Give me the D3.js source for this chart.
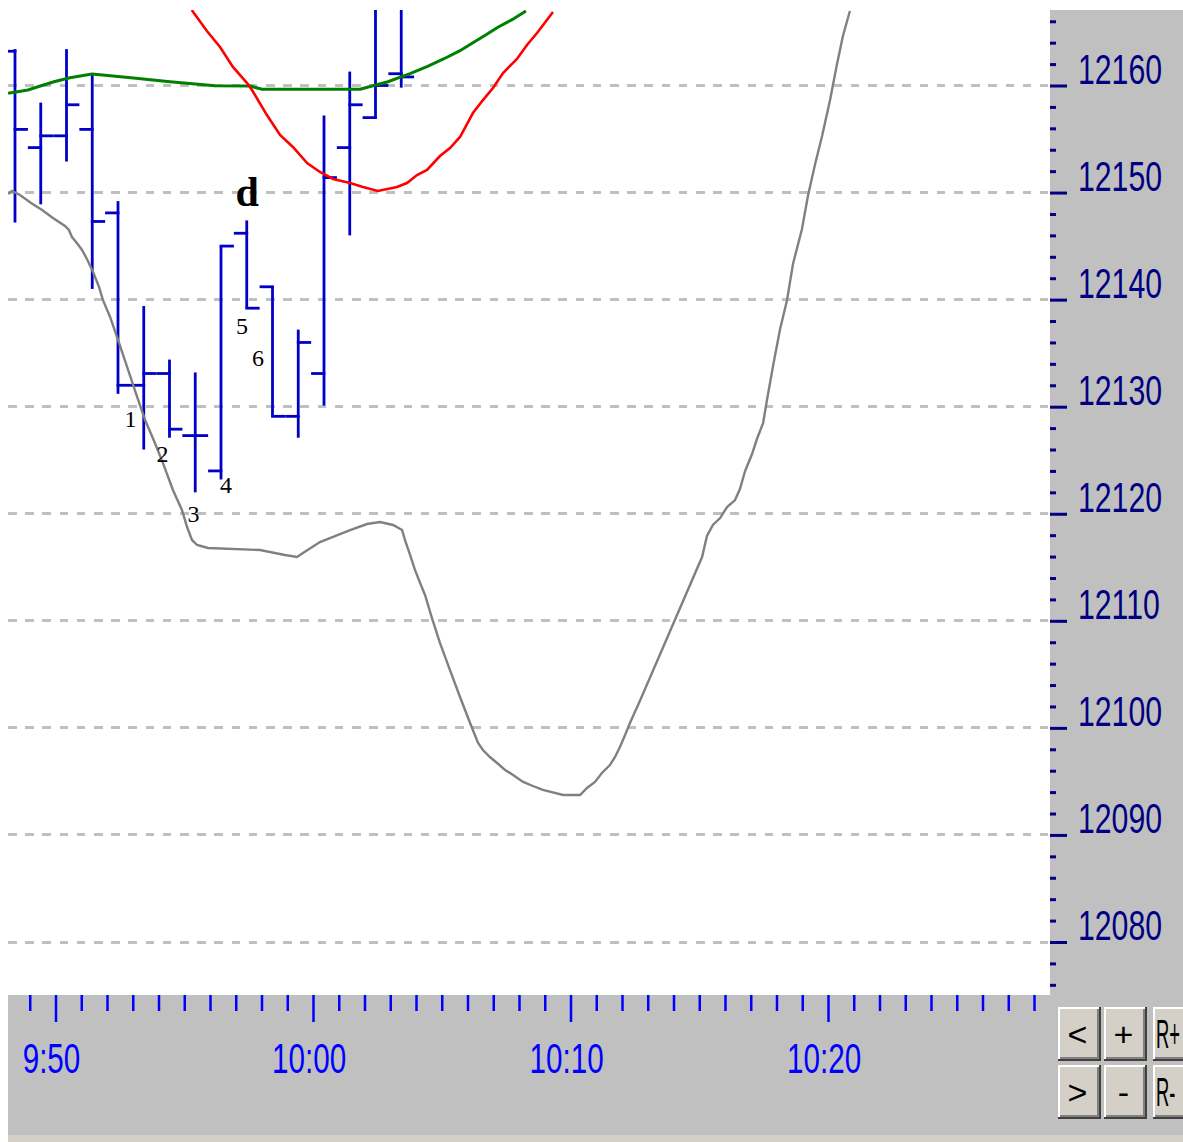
<!DOCTYPE html>
<html lang="en">
<head>
<meta charset="UTF-8">
<title>Bars with averages</title>
<script src="https://d3js.org/d3.v7.min.js"></script>
<style>
  body { margin: 0; background: #fff; }
  svg { display: block; }
  .grid line { stroke: #c0c0c0; stroke-width: 3; stroke-dasharray: 8.5 8.7; }
  .bar line { stroke: #0000c8; stroke-width: 2.8; }
  .axis .domain { display: none; }
</style>
</head>
<body>
<div id="container"></div>
<script>
// DATA (times are minutes since midnight, 590 = 9:50)
const barTimes  = [588, 589, 590, 591, 592, 593, 594, 595, 596, 597, 598, 599, 600, 601, 602, 603];
const barOpen   = [12163.2, 12154.2, 12155.3, 12155.9, 12148.1, 12132.0, 12133.1, 12127.3, 12124.0, 12146.2, 12141.2, 12129.1, 12133.1, 12154.2, 12157.0, 12161.1];
const barHigh   = [12163.4, 12158.4, 12163.4, 12161.1, 12149.2, 12139.4, 12134.4, 12133.2, 12145.0, 12147.4, 12141.2, 12137.2, 12157.2, 12161.3, 12170.0, 12170.0];
const barLow    = [12147.2, 12148.9, 12152.9, 12141.0, 12131.2, 12126.0, 12127.1, 12122.0, 12123.2, 12139.2, 12129.1, 12127.1, 12130.1, 12146.0, 12157.0, 12159.8];
const barClose  = [12155.9, 12155.3, 12158.2, 12147.3, 12132.0, 12133.1, 12127.9, 12127.3, 12145.0, 12139.2, 12129.1, 12136.0, 12151.4, 12158.2, 12160.0, 12160.8];

const grayLine = [
  [588.16, 12149.87], [588.31, 12150.15], [588.62, 12149.77], [589.05, 12149.03], [589.48, 12148.37],
  [589.90, 12147.62], [590.37, 12146.88], [590.52, 12146.50], [590.64, 12145.85], [590.83, 12145.29],
  [591.03, 12144.64], [591.22, 12143.80], [591.46, 12142.58], [591.69, 12141.18], [591.84, 12139.97],
  [592.12, 12138.38], [592.43, 12136.23], [592.78, 12133.71], [593.17, 12130.91], [593.48, 12128.76],
  [593.86, 12126.61], [594.17, 12124.75], [594.56, 12122.22], [594.91, 12120.35], [595.11, 12118.76],
  [595.30, 12117.55], [595.50, 12117.08], [595.92, 12116.80], [597.94, 12116.61], [598.91, 12116.15],
  [599.38, 12115.96], [599.61, 12116.33], [600.27, 12117.36], [600.78, 12117.83], [601.44, 12118.48],
  [602.10, 12119.04], [602.60, 12119.23], [603.11, 12118.95], [603.46, 12118.48], [603.57, 12117.55],
  [603.77, 12116.15], [603.96, 12114.75], [604.16, 12113.53], [604.35, 12112.41], [604.62, 12110.26],
  [604.93, 12107.93], [605.32, 12105.40], [605.71, 12102.88], [606.10, 12100.45], [606.41, 12098.59],
  [606.60, 12097.93], [606.87, 12097.28], [607.15, 12096.72], [607.46, 12096.07], [607.77, 12095.60],
  [608.16, 12094.95], [608.54, 12094.57], [608.93, 12094.20], [609.71, 12093.73], [610.37, 12093.73],
  [610.64, 12094.39], [610.95, 12094.95], [611.22, 12095.79], [611.53, 12096.53], [611.73, 12097.28],
  [611.92, 12098.21], [612.12, 12099.33], [612.31, 12100.45], [612.50, 12101.48], [612.66, 12102.32],
  [615.11, 12115.96], [615.30, 12117.92], [615.53, 12118.95], [615.81, 12119.60], [616.08, 12120.63],
  [616.39, 12121.28], [616.58, 12122.31], [616.78, 12123.99], [617.05, 12125.58], [617.24, 12126.98],
  [617.48, 12128.47], [617.63, 12130.62], [617.88, 12133.99], [618.14, 12137.26], [618.41, 12139.97],
  [618.64, 12143.33], [618.99, 12146.60], [619.22, 12149.68], [619.50, 12152.67], [619.77, 12155.28],
  [620.08, 12158.65], [620.35, 12162.01], [620.58, 12164.63], [620.85, 12166.96]
];

const greenLine = [
  [588.16, 12159.27], [588.93, 12159.58], [589.44, 12159.98], [589.94, 12160.35], [590.56, 12160.73],
  [591.42, 12161.07], [592.93, 12160.73], [594.45, 12160.35], [596.19, 12159.98], [597.55, 12159.95],
  [598.02, 12159.65], [601.83, 12159.65], [602.33, 12159.98], [602.91, 12160.35], [603.34, 12160.73],
  [603.77, 12161.10], [604.47, 12161.82], [605.09, 12162.50], [605.71, 12163.25], [606.21, 12164.00],
  [606.72, 12164.74], [607.18, 12165.44], [607.73, 12166.15], [608.27, 12166.96]
];

const redLine = [
  [595.29, 12167.05], [595.88, 12165.09], [596.39, 12163.60], [596.89, 12161.73], [597.44, 12160.23],
  [597.63, 12159.58], [598.21, 12157.24], [598.72, 12155.38], [599.22, 12154.26], [599.77, 12152.76],
  [600.27, 12151.92], [600.78, 12151.27], [601.44, 12150.89], [601.94, 12150.52], [602.52, 12150.15],
  [603.26, 12150.52], [603.65, 12150.89], [604.04, 12151.64], [604.43, 12152.11], [604.93, 12153.41],
  [605.32, 12154.16], [605.71, 12155.19], [606.21, 12157.43], [606.60, 12158.64], [606.99, 12159.77],
  [607.38, 12161.17], [607.92, 12162.48], [608.31, 12163.78], [608.70, 12164.90], [609.32, 12166.86]
];

const markText   = ["1", "2", "3", "4", "5", "6", "d"];
const markTimes  = [592.91, 594.16, 595.36, 596.62, 597.24, 597.86, 597.44];
const markPrices = [12128.10, 12124.83, 12119.23, 12121.94, 12136.79, 12133.80, 12148.74];

const priceTicks = [12080, 12090, 12100, 12110, 12120, 12130, 12140, 12150, 12160];
const timeTicks = [590, 600, 610, 620];
const timeTickLabels = ["9:50", "10:00", "10:10", "10:20"];
const buttonLabels = [["<", "+", "R+"], [">", "-", "R-"]];

// LAYOUT
const W = 1183, H = 1142;
const plot = { left: 8, right: 1050, top: 10, bottom: 995 };
const stripTop = 1135;

const x = d3.scaleLinear().domain([590, 620]).range([55.5, 828]);
const y = d3.scaleLinear().domain([12080, 12160]).range([942, 85.5]);

const svg = d3.select("#container").append("svg")
  .attr("width", W).attr("height", H);

svg.append("rect").attr("width", W).attr("height", H).attr("fill", "#fff");
svg.append("rect").attr("x", plot.right).attr("y", plot.top)
  .attr("width", W - plot.right).attr("height", stripTop - plot.top).attr("fill", "#c0c0c0");
svg.append("rect").attr("x", plot.left).attr("y", plot.bottom)
  .attr("width", plot.right - plot.left).attr("height", stripTop - plot.bottom).attr("fill", "#c0c0c0");
svg.append("rect").attr("x", plot.left).attr("y", stripTop)
  .attr("width", W - plot.left).attr("height", H - stripTop).attr("fill", "#d4d0c8");

svg.append("clipPath").attr("id", "plotclip").append("rect")
  .attr("x", plot.left).attr("y", plot.top)
  .attr("width", plot.right - plot.left).attr("height", plot.bottom - plot.top);

// GRID
svg.append("g").attr("class", "grid")
  .selectAll("line").data(priceTicks).join("line")
  .attr("x1", plot.left).attr("x2", plot.right - 2)
  .attr("y1", d => y(d)).attr("y2", d => y(d))
  .attr("shape-rendering", "crispEdges");

const chart = svg.append("g").attr("clip-path", "url(#plotclip)");

// BARS (open tick left, close tick right)
const tickLen = 12.9;
const bars = chart.selectAll("g.bar").data(barTimes).join("g").attr("class", "bar")
  .attr("transform", d => "translate(" + x(d + 0.427) + ",0)");
bars.append("line").attr("x1", 0).attr("x2", 0)
  .attr("y1", (d, i) => y(barHigh[i])).attr("y2", (d, i) => y(barLow[i]));
bars.append("line").attr("x1", -tickLen).attr("x2", 1.4)
  .attr("y1", (d, i) => y(barOpen[i])).attr("y2", (d, i) => y(barOpen[i]));
bars.append("line").attr("x1", -1.4).attr("x2", tickLen)
  .attr("y1", (d, i) => y(barClose[i])).attr("y2", (d, i) => y(barClose[i]));

// LINES
const line = d3.line().x(d => x(d[0])).y(d => y(d[1]));
chart.append("path").attr("d", line(grayLine))
  .attr("fill", "none").attr("stroke", "#808080").attr("stroke-width", 2.4);
chart.append("path").attr("d", line(greenLine))
  .attr("fill", "none").attr("stroke", "#008000").attr("stroke-width", 3);
chart.append("path").attr("d", line(redLine))
  .attr("fill", "none").attr("stroke", "#ff0000").attr("stroke-width", 2.6);

// MARK LABELS
chart.selectAll("text.mark").data(markText).join("text").attr("class", "mark")
  .attr("x", (d, i) => x(markTimes[i])).attr("y", (d, i) => y(markPrices[i]))
  .attr("text-anchor", "middle")
  .attr("font-family", "'Liberation Serif', 'DejaVu Serif', serif")
  .attr("font-size", d => d === "d" ? 42 : 24)
  .attr("font-weight", d => d === "d" ? "bold" : "normal")
  .attr("fill", "#000")
  .text(d => d);

// RIGHT AXIS
const yLabelScale = 0.72;
const minorPrices = d3.range(12076, 12167, 2).filter(v => v % 10 !== 0);
svg.append("g").attr("class", "axis")
  .attr("transform", "translate(" + plot.right + ",0)")
  .call(d3.axisRight(y).tickValues(minorPrices).tickSize(6).tickFormat(""))
  .call(g => g.selectAll("line").attr("stroke", "#000080").attr("stroke-width", 3));
svg.append("g").attr("class", "axis")
  .attr("transform", "translate(" + plot.right + ",0)")
  .call(d3.axisRight(y).tickValues(priceTicks).tickSize(17).tickFormat(d3.format("d")))
  .call(g => g.selectAll("line").attr("stroke", "#000080").attr("stroke-width", 3))
  .call(g => g.selectAll("text")
    .attr("x", 28 / yLabelScale).attr("y", -2.5).attr("dy", 0)
    .attr("transform", "scale(" + yLabelScale + ",1)")
    .attr("text-anchor", "start")
    .attr("fill", "#000080")
    .attr("font-family", "'Liberation Sans', Arial, sans-serif")
    .attr("font-size", 42));

// BOTTOM AXIS
const xLabelScale = 0.69;
const minorTimes = d3.range(589, 629).filter(v => v % 10 !== 0);
svg.append("g").attr("class", "axis")
  .attr("transform", "translate(0," + plot.bottom + ")")
  .call(d3.axisBottom(x).tickValues(minorTimes).tickSize(16).tickFormat(""))
  .call(g => g.selectAll("line").attr("stroke", "#0000ff").attr("stroke-width", 2.5));
svg.append("g").attr("class", "axis")
  .attr("transform", "translate(0," + plot.bottom + ")")
  .call(d3.axisBottom(x).tickValues(timeTicks).tickSize(27).tickFormat((d, i) => timeTickLabels[i]))
  .call(g => g.selectAll("line").attr("stroke", "#0000ff").attr("stroke-width", 2.5))
  .call(g => g.selectAll("text")
    .attr("x", -4.5 / xLabelScale).attr("y", 78).attr("dy", 0)
    .attr("transform", "scale(" + xLabelScale + ",1)")
    .attr("fill", "#0000ff")
    .attr("font-family", "'Liberation Sans', Arial, sans-serif")
    .attr("font-size", 43));

// BUTTONS
const colX = [1058, 1104, 1153];
const rowY = [1007, 1065];
const bw = 43, bh = 54;
buttonLabels.forEach((row, r) => {
  row.forEach((label, c) => {
    const b = svg.append("g").attr("transform", "translate(" + colX[c] + "," + rowY[r] + ")");
    b.append("rect").attr("width", bw).attr("height", bh).attr("fill", "#404040");
    b.append("rect").attr("width", bw - 2).attr("height", bh - 2).attr("fill", "#fff");
    b.append("rect").attr("x", 2).attr("y", 2).attr("width", bw - 4).attr("height", bh - 4).attr("fill", "#808080");
    b.append("rect").attr("x", 2).attr("y", 2).attr("width", bw - 6).attr("height", bh - 6).attr("fill", "#d4d0c8");
    const wide = label.length > 1;
    b.append("text")
      .attr("transform", wide ? "translate(3," + (bh / 2 + 14) + ") scale(0.46,1)" : "translate(" + (bw / 2 - 2) + "," + (bh / 2 + 12) + ")")
      .attr("text-anchor", wide ? "start" : "middle")
      .attr("font-family", "'Liberation Sans', Arial, sans-serif")
      .attr("font-size", wide ? 40 : 34)
      .attr("fill", "#000")
      .text(label);
  });
});
</script>
</body>
</html>
